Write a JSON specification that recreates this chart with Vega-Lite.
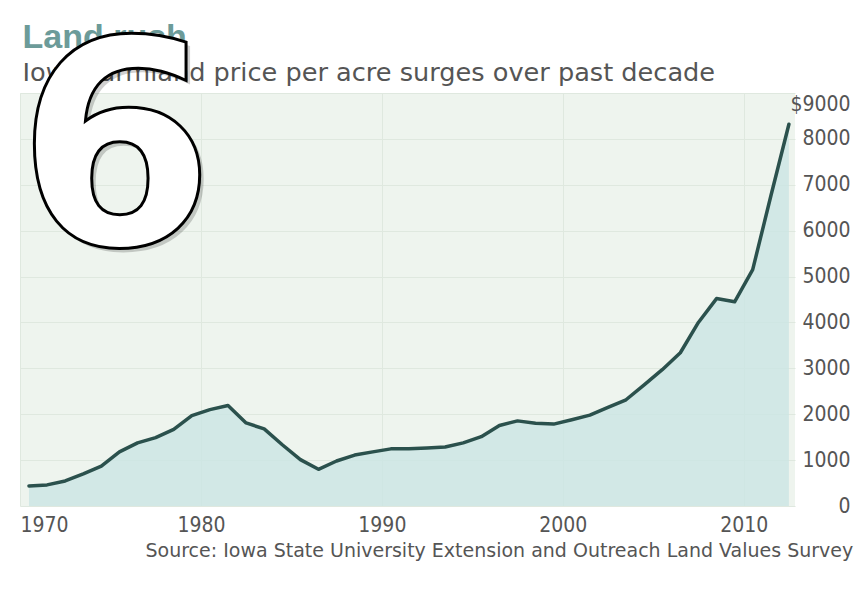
{
  "$schema": "https://vega.github.io/schema/vega-lite/v6.json",
  "width": 775,
  "height": 413,
  "autosize": {"type": "none"},
  "padding": {"left": 20, "top": 93, "right": 64, "bottom": 85},
  "background": "#ffffff",
  "config": {"view": {"fill": "#eef4ee", "stroke": null}},
  "datasets": {
    "prices": [
      {"date": "1970-07-01", "value": 437},
      {"date": "1971-07-01", "value": 460},
      {"date": "1972-07-01", "value": 545},
      {"date": "1973-07-01", "value": 700},
      {"date": "1974-07-01", "value": 870},
      {"date": "1975-07-01", "value": 1180},
      {"date": "1976-07-01", "value": 1375},
      {"date": "1977-07-01", "value": 1490},
      {"date": "1978-07-01", "value": 1670},
      {"date": "1979-07-01", "value": 1970},
      {"date": "1980-07-01", "value": 2100},
      {"date": "1981-07-01", "value": 2190},
      {"date": "1982-07-01", "value": 1810},
      {"date": "1983-07-01", "value": 1680},
      {"date": "1984-07-01", "value": 1335},
      {"date": "1985-07-01", "value": 1010},
      {"date": "1986-07-01", "value": 800},
      {"date": "1987-07-01", "value": 980},
      {"date": "1988-07-01", "value": 1110},
      {"date": "1989-07-01", "value": 1180},
      {"date": "1990-07-01", "value": 1245},
      {"date": "1991-07-01", "value": 1250},
      {"date": "1992-07-01", "value": 1265},
      {"date": "1993-07-01", "value": 1285},
      {"date": "1994-07-01", "value": 1375},
      {"date": "1995-07-01", "value": 1510},
      {"date": "1996-07-01", "value": 1755},
      {"date": "1997-07-01", "value": 1855},
      {"date": "1998-07-01", "value": 1805},
      {"date": "1999-07-01", "value": 1785},
      {"date": "2000-07-01", "value": 1880},
      {"date": "2001-07-01", "value": 1980},
      {"date": "2002-07-01", "value": 2150},
      {"date": "2003-07-01", "value": 2315},
      {"date": "2004-07-01", "value": 2640},
      {"date": "2005-07-01", "value": 2970},
      {"date": "2006-07-01", "value": 3340},
      {"date": "2007-07-01", "value": 4000},
      {"date": "2008-07-01", "value": 4520},
      {"date": "2009-07-01", "value": 4450},
      {"date": "2010-07-01", "value": 5150},
      {"date": "2011-07-01", "value": 6750},
      {"date": "2012-07-01", "value": 8320}
    ],
    "marker": [
      {"date": "1975-04-20", "value": 5700, "text": "6"}
    ]
  },
  "layer": [
    {
      "data": {"name": "prices"},
      "mark": {"type": "area", "color": "#cbe5e3", "opacity": 0.8},
      "encoding": {
        "x": {
          "field": "date",
          "type": "temporal",
          "scale": {"type": "utc", "domain": ["1970-01-01", "2012-11-01"]},
          "axis": {
            "orient": "bottom",
            "values": [
              {"year": 1970, "utc": true},
              {"year": 1980, "utc": true},
              {"year": 1990, "utc": true},
              {"year": 2000, "utc": true},
              {"year": 2010, "utc": true}
            ],
            "format": "%Y",
            "labelFlush": true,
            "labelFont": "DejaVu Sans Condensed",
            "labelFontSize": 21,
            "labelColor": "#555555",
            "labelPadding": 8,
            "domain": false,
            "ticks": false,
            "grid": true,
            "gridColor": "#dfe8df",
            "title": "Source: Iowa State University Extension and Outreach Land Values Survey",
            "titleFont": "DejaVu Sans",
            "titleFontSize": 19,
            "titleFontWeight": "normal",
            "titleColor": "#555555",
            "titleAnchor": "start",
            "titleAlign": "left",
            "titleX": 125,
            "titleY": 50,
            "titleBaseline": "alphabetic",
            "titleLimit": 1000
          }
        },
        "y": {
          "field": "value",
          "type": "quantitative",
          "scale": {"domain": [0, 9000], "nice": false},
          "axis": {
            "orient": "right",
            "values": [0, 1000, 2000, 3000, 4000, 5000, 6000, 7000, 8000, 9000],
            "format": "d",
            "labelExpr": "datum.value == 9000 ? '$9000' : datum.label",
            "domain": false,
            "ticks": false,
            "labelAlign": "right",
            "labelPadding": 55,
            "labelFont": "DejaVu Sans Condensed",
            "labelFontSize": 21,
            "labelColor": "#555555",
            "labelBaseline": {"condition": {"test": "datum.value == 9000", "value": "top"}, "value": "middle"},
            "gridColor": "#dfe8df",
            "title": null
          }
        }
      }
    },
    {
      "data": {"name": "prices"},
      "mark": {"type": "line", "color": "#2b514d", "strokeWidth": 3.5, "strokeJoin": "round", "strokeCap": "round"},
      "encoding": {
        "x": {
          "field": "date",
          "type": "temporal",
          "axis": {
            "orient": "top",
            "labels": false,
            "ticks": false,
            "domain": false,
            "grid": false,
            "title": "Land rush",
            "titleFont": "Liberation Sans",
            "titleFontSize": 34,
            "titleFontWeight": "bold",
            "titleColor": "#6c9b99",
            "titleAnchor": "start",
            "titleAlign": "left",
            "titleBaseline": "alphabetic",
            "titleX": 2,
            "titleY": -46,
            "titleLimit": 1000
          }
        },
        "y": {
          "field": "value",
          "type": "quantitative",
          "axis": {
            "orient": "left",
            "labels": false,
            "ticks": false,
            "domain": false,
            "grid": false,
            "title": "Iowa farmland price per acre surges over past decade",
            "titleFont": "DejaVu Sans",
            "titleFontSize": 25.6,
            "titleFontWeight": "normal",
            "titleColor": "#555555",
            "titleAngle": 0,
            "titleAnchor": "start",
            "titleAlign": "left",
            "titleBaseline": "alphabetic",
            "titleX": 2,
            "titleY": -13,
            "titleLimit": 1000
          }
        }
      }
    },
    {
      "data": {"name": "marker"},
      "mark": {"type": "text", "font": "DejaVu Sans", "fontWeight": "bold", "fontSize": 285, "fill": "#000000", "opacity": 0.18, "dx": 4, "dy": 4, "align": "center", "baseline": "alphabetic", "clip": false},
      "encoding": {
        "x": {"field": "date", "type": "temporal", "axis": null},
        "y": {"field": "value", "type": "quantitative", "axis": null},
        "text": {"field": "text"}
      }
    },
    {
      "data": {"name": "marker"},
      "mark": {"type": "text", "font": "DejaVu Sans", "fontWeight": "bold", "fontSize": 285, "fill": "#ffffff", "stroke": "#000000", "strokeWidth": 3, "align": "center", "baseline": "alphabetic", "clip": false},
      "encoding": {
        "x": {"field": "date", "type": "temporal", "axis": null},
        "y": {"field": "value", "type": "quantitative", "axis": null},
        "text": {"field": "text"}
      }
    }
  ]
}
